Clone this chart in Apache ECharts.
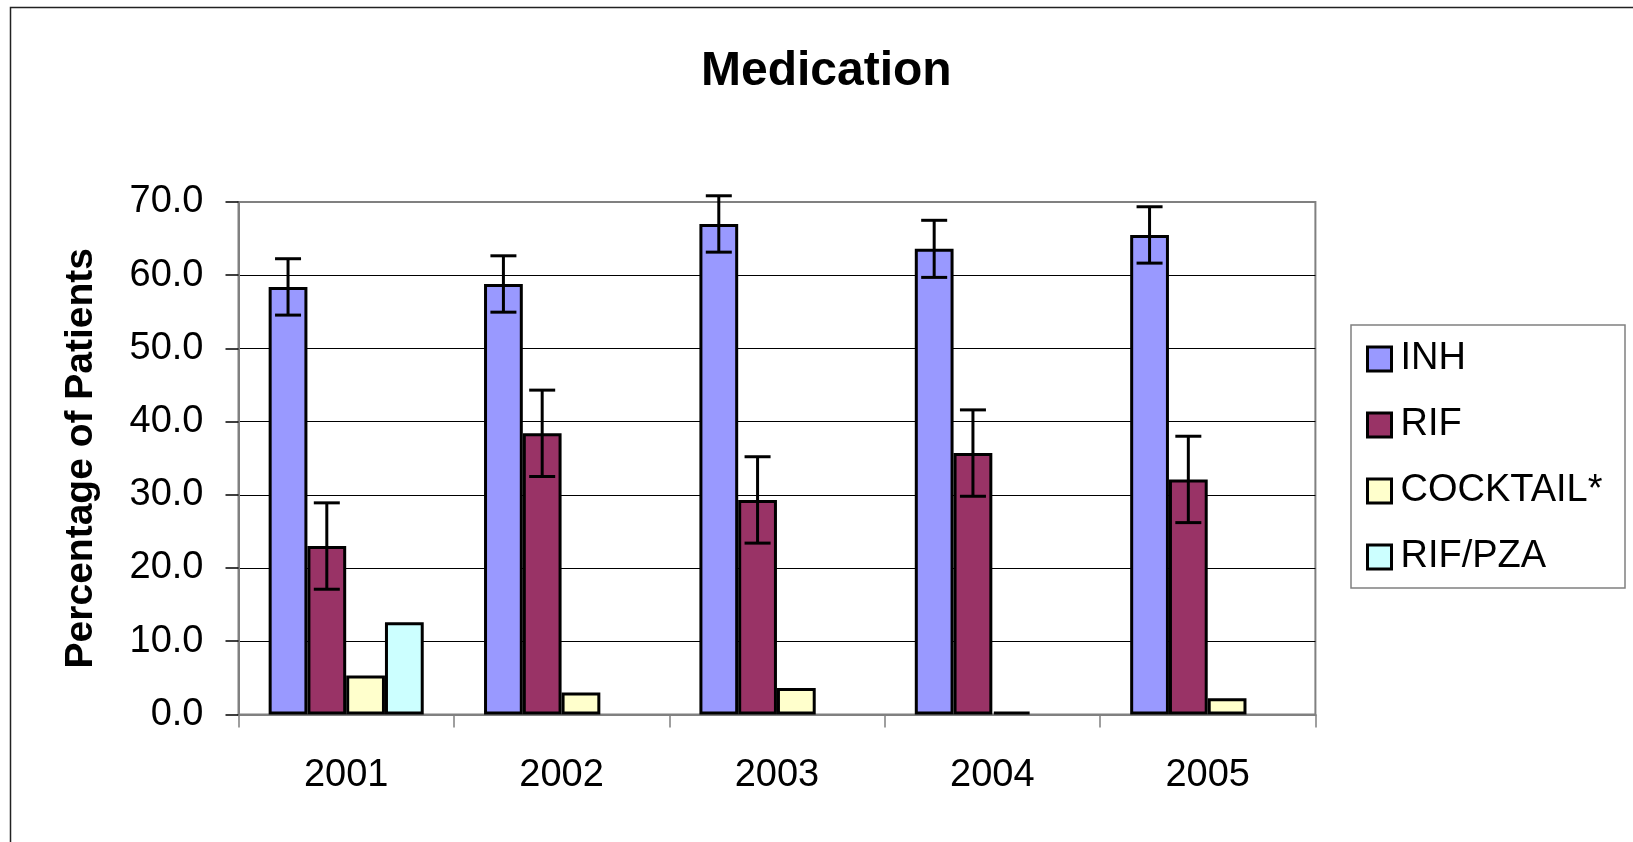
<!DOCTYPE html>
<html>
<head>
<meta charset="utf-8">
<script src="https://cdn.jsdelivr.net/npm/echarts@6/dist/echarts.min.js"></script>
<style>
html,body{margin:0;padding:0;background:#fff;}
#chart{width:1633px;height:842px;}
</style>
</head>
<body>
<div id="chart"></div>
<script>
var years = ['2001', '2002', '2003', '2004', '2005'];
var seriesNames = ['INH', 'RIF', 'COCKTAIL*', 'RIF/PZA'];
var inh = [58.4, 58.8, 67.0, 63.6, 65.5];
var rif = [23.0, 38.4, 29.3, 35.7, 32.1];
var cocktail = [5.3, 3.0, 3.6, 0.4, 2.2];
var rifpza = [12.6, null, null, null, null];
var inhErr = [3.85, 3.85, 3.85, 3.9, 3.85];
var rifErr = [5.9, 5.9, 5.9, 5.9, 5.9];
var yTicks = { min: 0, max: 70, interval: 10 };

var colors = ['#9999FF', '#993366', '#FFFFCC', '#CCFFFF'];
var FONT = '"Liberation Sans", Arial, sans-serif';
var CAT_GAP = 0.28;

function errSeries(idx, vals, errs) {
  return {
    type: 'custom',
    z: 5,
    silent: true,
    data: vals.map(function (v, i) { return [i, v, errs[i]]; }),
    encode: { x: 0, y: 1 },
    renderItem: function (params, api) {
      var ci = api.value(0), v = api.value(1), e = api.value(2);
      var c = api.coord([ci, v]);
      var band = api.size([1, 0])[0];
      var groupW = band * (1 - CAT_GAP);
      var bw = groupW / 4;
      var x = c[0] - groupW / 2 + (idx + 0.5) * bw;
      var yt = api.coord([ci, v + e])[1];
      var yb = api.coord([ci, v - e])[1];
      var cap = 13;
      var st = { stroke: '#000', lineWidth: 3 };
      return {
        type: 'group',
        children: [
          { type: 'line', shape: { x1: x, y1: yt, x2: x, y2: yb }, style: st },
          { type: 'line', shape: { x1: x - cap, y1: yt, x2: x + cap, y2: yt }, style: st },
          { type: 'line', shape: { x1: x - cap, y1: yb, x2: x + cap, y2: yb }, style: st }
        ]
      };
    }
  };
}

function barSeries(name, data, color) {
  return {
    name: name,
    type: 'bar',
    data: data,
    barGap: '0%',
    barCategoryGap: (CAT_GAP * 100) + '%',
    itemStyle: { color: color, borderColor: '#000', borderWidth: 3 }
  };
}

var chart = echarts.init(document.getElementById('chart'), null, { renderer: 'canvas' });
chart.setOption({
  backgroundColor: '#fff',
  animation: false,
  textStyle: { fontFamily: FONT },
  title: {
    text: 'Medication',
    left: 701,
    top: 48,
    padding: 0,
    textStyle: { fontFamily: FONT, fontWeight: 'bold', fontSize: 48, color: '#000' }
  },
  graphic: [
    { type: 'rect', shape: { x: 10.5, y: 7.5, width: 1640, height: 850 },
      style: { fill: null, stroke: '#222', lineWidth: 1.5 }, z: 0 },
    { type: 'rect', shape: { x: 1351, y: 325, width: 274, height: 263 },
      style: { fill: '#fff', stroke: '#808080', lineWidth: 1.5 }, z: 0 }
  ],
  legend: {
    orient: 'vertical',
    left: 1366,
    top: 340,
    padding: 0,
    itemGap: 28,
    itemWidth: 24,
    itemHeight: 24,
    icon: 'rect',
    data: seriesNames,
    itemStyle: { borderColor: '#000', borderWidth: 3 },
    textStyle: { fontFamily: FONT, fontSize: 38, color: '#000', padding: [0, 0, 0, 4] }
  },
  grid: {
    left: 238.5,
    right: 317.6,
    top: 202,
    bottom: 127.6,
    show: true,
    borderColor: '#808080',
    borderWidth: 2,
    backgroundColor: '#fff'
  },
  xAxis: {
    type: 'category',
    data: years,
    boundaryGap: true,
    axisLine: { lineStyle: { color: '#808080', width: 2 } },
    axisTick: { show: true, length: 13, alignWithLabel: false, lineStyle: { color: '#808080', width: 1.5 } },
    axisLabel: { margin: 42, fontFamily: FONT, fontSize: 38, color: '#000' },
    splitLine: { show: false }
  },
  yAxis: {
    type: 'value',
    min: yTicks.min,
    max: yTicks.max,
    interval: yTicks.interval,
    name: 'Percentage of Patients',
    nameLocation: 'middle',
    nameGap: 138,
    nameTextStyle: { fontFamily: FONT, fontWeight: 'bold', fontSize: 39, color: '#000' },
    axisLine: { show: true, lineStyle: { color: '#808080', width: 2 } },
    axisTick: { show: true, length: 13, lineStyle: { color: '#000', width: 1.5 } },
    axisLabel: {
      margin: 35, fontFamily: FONT, fontSize: 38, color: '#000',
      formatter: function (v) { return v.toFixed(1); }
    },
    splitLine: { show: true, showMinLine: false, showMaxLine: false, lineStyle: { color: '#000', width: 1.2 } }
  },
  series: [
    barSeries(seriesNames[0], inh, colors[0]),
    barSeries(seriesNames[1], rif, colors[1]),
    barSeries(seriesNames[2], cocktail, colors[2]),
    barSeries(seriesNames[3], rifpza, colors[3]),
    errSeries(0, inh, inhErr),
    errSeries(1, rif, rifErr)
  ]
});
</script>
</body>
</html>
